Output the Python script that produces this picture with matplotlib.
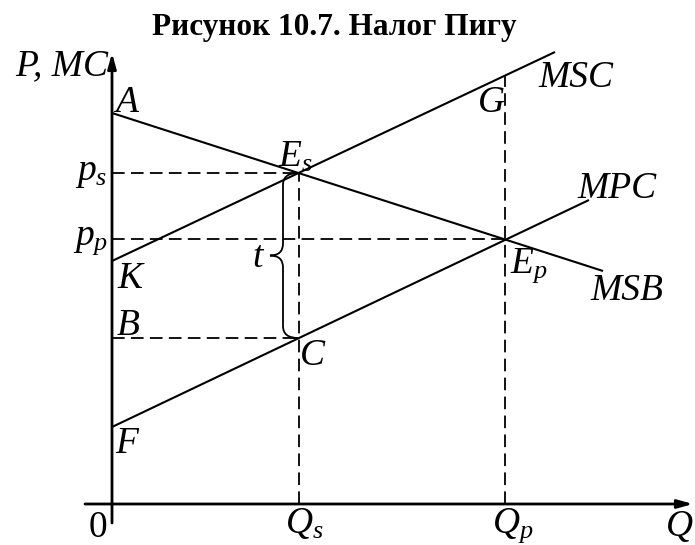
import numpy as np
import matplotlib.pyplot as plt
from matplotlib.path import Path
from matplotlib.patches import PathPatch

plt.rcParams["font.family"] = ["Liberation Serif", "DejaVu Serif"]
plt.rcParams["mathtext.fontset"] = "custom"
plt.rcParams["mathtext.it"] = "Liberation Serif:italic"
plt.rcParams["mathtext.rm"] = "Liberation Serif"

# --- data (Q, P) ---
msb_q = [0.0, 49.1]
msb_p = [39.1, 23.3]
msc_q = [0.0, 44.3]
msc_p = [24.3, 45.2]
mpc_q = [0.0, 47.7]
mpc_p = [7.7, 30.4]

q_s, q_p = 18.7, 39.3     # social optimum / private equilibrium quantity
p_s, p_p = 33.1, 26.5     # prices
p_b = 16.6                # point B / C (MPC at Q_s)
p_g = 42.8                # point G (MSC at Q_p)

title = "Рисунок 10.7. Налог Пигу"

fig = plt.figure(figsize=(6.95, 5.45), dpi=100)
ax = fig.add_axes([0, 0, 1, 1])
ax.set_xlim(-11.2, 58.3)
ax.set_ylim(-4.1, 50.4)
ax.axis("off")

lw = 1.5
fs = 27

# axes with arrows
ax.annotate("", xy=(58.1, 0), xytext=(-2.7, 0),
            arrowprops=dict(arrowstyle="-|>,head_length=0.9,head_width=0.25",
                            lw=2, color="black", shrinkA=0, shrinkB=0))
ax.annotate("", xy=(0, 45.1), xytext=(0, -1.9),
            arrowprops=dict(arrowstyle="-|>,head_length=0.9,head_width=0.25",
                            lw=2, color="black", shrinkA=0, shrinkB=0))

# curves
ax.plot(msb_q, msb_p, color="black", lw=lw, solid_capstyle="butt")
ax.plot(msc_q, msc_p, color="black", lw=lw, solid_capstyle="butt")
ax.plot(mpc_q, mpc_p, color="black", lw=lw, solid_capstyle="butt")

# dashed guides
ds = dict(color="black", lw=1.3, linestyle=(0, (7, 3.5)))
ax.plot([0, q_s], [p_s, p_s], **ds)
ax.plot([0, q_p], [p_p, p_p], **ds)
ax.plot([0, q_s], [p_b, p_b], **ds)
ax.plot([q_s, q_s], [0, p_s], **ds)
ax.plot([q_p, q_p], [0, p_g], **ds)

# brace for the tax t between C and E_s
sx = q_s - 1.6     # spine
tx = q_s - 2.9     # tip
ex = q_s - 0.1     # ends
mid = (p_s + p_b) / 2
r = 1.2
verts = [(ex, p_s), (sx, p_s), (sx, p_s - r),
         (sx, mid + r), (sx, mid), (tx, mid),
         (sx, mid), (sx, mid - r),
         (sx, p_b + r), (sx, p_b), (ex, p_b)]
codes = [Path.MOVETO, Path.CURVE3, Path.CURVE3,
         Path.LINETO, Path.CURVE3, Path.CURVE3,
         Path.CURVE3, Path.CURVE3,
         Path.LINETO, Path.CURVE3, Path.CURVE3]
ax.add_patch(PathPatch(Path(verts, codes), fill=False, lw=1.3, color="black"))

# labels
it = dict(fontsize=fs, style="italic", va="baseline")
ax.text(22.2, 46.9, title, fontsize=22.5, fontweight="bold",
        ha="center", va="baseline")
ax.text(-0.4, 42.9, "P, MC", ha="right", **it)
ax.text(0.3, 39.2, "A", ha="left", **it)
ax.text(-0.5, 32.4, r"$p_s$", ha="right", fontsize=fs, va="baseline")
ax.text(16.6, 33.7, r"$E_s$", ha="left", fontsize=fs, va="baseline")
ax.text(42.6, 41.7, "MSC", ha="left", **it)
ax.text(36.6, 39.2, "G", ha="left", **it)
ax.text(46.5, 30.6, "MPC", ha="left", **it)
ax.text(39.8, 23.1, r"$E_p$", ha="left", fontsize=fs, va="baseline")
ax.text(47.8, 20.4, "MSB", ha="left", **it)
ax.text(-0.4, 25.9, r"$p_p$", ha="right", fontsize=fs, va="baseline")
ax.text(15.1, 23.7, "t", ha="right", **it)
ax.text(0.5, 21.6, "K", ha="left", **it)
ax.text(0.5, 16.9, "B", ha="left", **it)
ax.text(18.8, 13.9, "C", ha="left", **it)
ax.text(0.3, 5.1, "F", ha="left", **it)
ax.text(-0.5, -3.3, "0", ha="right", fontsize=fs, va="baseline")
ax.text(17.3, -2.9, r"$Q_s$", ha="left", fontsize=fs, va="baseline")
ax.text(38.0, -2.9, r"$Q_p$", ha="left", fontsize=fs, va="baseline")
ax.text(55.4, -3.2, "Q", ha="left", **it)

fig.savefig("out.png", dpi=100)
